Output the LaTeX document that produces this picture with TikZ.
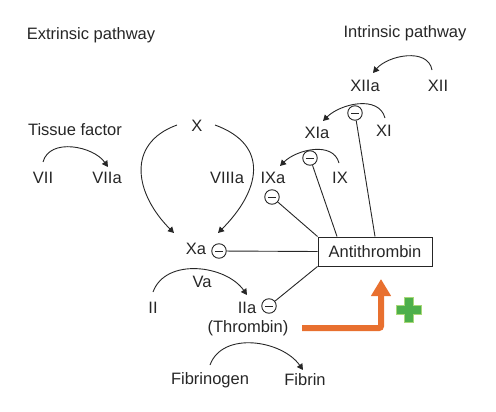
\documentclass[tikz,border=0pt]{standalone}
\usepackage{fontspec}
\setmainfont{Liberation Sans}
\usepackage{xcolor}
\usetikzlibrary{arrows.meta, positioning}
\definecolor{ink}{HTML}{262626}
\definecolor{boostorange}{HTML}{E8702F}
\definecolor{plusgreen}{HTML}{4DAF4A}
\definecolor{plusrim}{HTML}{A8D878}
\begin{document}
\begin{tikzpicture}[x=1pt, y=1pt, font=\fontsize{16.5}{19}\selectfont, text=ink,
            every node/.style={inner sep=1pt},
            conv/.style={draw=ink, line width=0.9pt, -{Triangle[length=6pt, width=6.5pt]}},
            block/.style={draw=ink, line width=0.9pt},
            inhib/.style={circle, draw=ink, line width=0.9pt, minimum size=14.5pt, inner sep=0pt,
                path picture={\draw[ink, line width=0.9pt] (-3.6pt,0) -- (3.6pt,0);}},
            box/.style={draw=ink, line width=1pt, rectangle, minimum width=114pt, minimum height=29pt}]
            \useasboundingbox (0,0) rectangle (496,-412);
            \node (ext) at (91,-35) {Extrinsic pathway};
            \node (intr) at (405,-33) {Intrinsic pathway};
            \node (xii) at (438,-86) {XII};
            \node (xiia) at (365,-86) {XIIa};
            \node (xi) at (384,-131) {XI};
            \node (xia) at (317,-133) {XIa};
            \node (ix) at (340,-178) {IX};
            \node (ixa) at (273,-178) {IXa};
            \node (viiia) at (227,-178) {VIIIa};
            \node (x) at (197,-126) {X};
            \node (tf) at (75,-130) {Tissue factor};
            \node (vii) at (43,-178) {VII};
            \node (viia) at (107,-178) {VIIa};
            \node (xa) at (196,-249) {Xa};
            \node (va) at (202,-282) {Va};
            \node (ii) at (153,-308) {II};
            \node (iia) at (247,-308) {IIa};
            \node (thr) at (248,-328) {(Thrombin)};
            \node (fgn) at (210,-380) {Fibrinogen};
            \node (fib) at (305,-380) {Fibrin};
            \node[box] (at) at (375,-251.5) {Antithrombin};

            \node[inhib] (mxiia) at (355,-113) {};
            \node[inhib] (mxia) at (310,-158) {};
            \node[inhib] (mixa) at (272,-197) {};
            \node[inhib] (mxa) at (219,-251) {};
            \node[inhib] (miia) at (269,-306) {};

            \draw[conv] ([shift={(-6,16)}]xii.center) to[out=100, in=50] ([shift={(8,13)}]xiia.center);
            \draw[conv] ([shift={(1,13)}]xi.center) to[out=105, in=45] ([shift={(6,12)}]xia.center);
            \draw[conv] ([shift={(-1,15)}]ix.center) to[out=105, in=45] ([shift={(7,12)}]ixa.center);
            \draw[conv] ([shift={(0,16)}]vii.center) to[out=75, in=125] ([shift={(1,11)}]viia.center);
            \draw[conv] ([shift={(0,16)}]ii.center) to[out=70, in=125] ([shift={(0,13)}]iia.center);
            \draw[conv] ([shift={(0,15)}]fgn.center) to[out=70, in=125] ([shift={(-2,10)}]fib.center);
            \draw[conv] ([shift={(-20,1)}]x.center) to[out=200, in=135, looseness=1.3] ([shift={(-22,16)}]xa.center);
            \draw[conv] ([shift={(18,1)}]x.center) to[out=-20, in=45, looseness=1.4] ([shift={(22,16)}]xa.center);

            \draw[block] (mxa) -- (at.west);
            \draw[block] (mixa) -- (at.north west);
            \draw[block] (mxia) -- ([xshift=-38pt]at.north);
            \draw[block] (mxiia) -- (at.north);
            \draw[block] (miia) -- (at.south west);

            \coordinate (boost) at (302,-328);
            \coordinate (boosttip) at (381,-279);
            \draw[boostorange, line width=6pt, rounded corners=2pt, -{Triangle[length=17pt, width=19pt]}] (boost) -| (boosttip);

            \coordinate (plus) at (408.5,-310);
            \filldraw[fill=plusgreen, draw=plusrim, line width=1pt] ([shift={(-4.5,-12.5)}]plus) -- ++(9,0) -- ++(0,8) -- ++(8,0) -- ++(0,9) -- ++(-8,0) -- ++(0,8) -- ++(-9,0) -- ++(0,-8) -- ++(-8,0) -- ++(0,-9) -- ++(8,0) -- cycle;
        \end{tikzpicture}
\end{document}
